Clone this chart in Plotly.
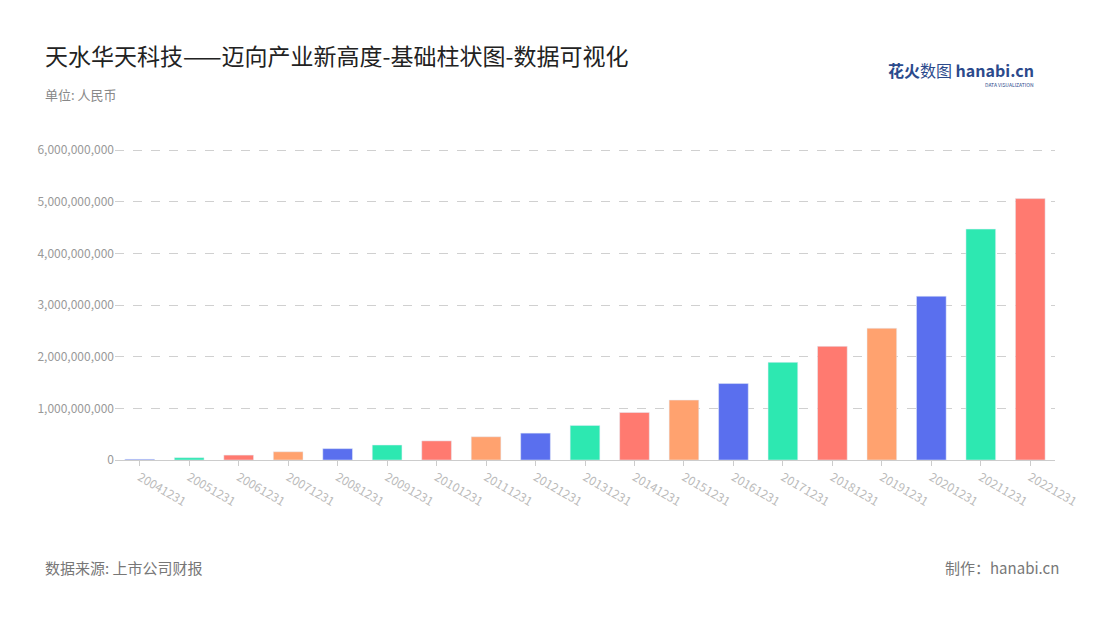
import plotly.graph_objects as go

years = ['20041231', '20051231', '20061231', '20071231', '20081231', '20091231',
         '20101231', '20111231', '20121231', '20131231', '20141231', '20151231',
         '20161231', '20171231', '20181231', '20191231', '20201231', '20211231',
         '20221231']
values = [15e6, 45e6, 95e6, 160e6, 220e6, 290e6, 370e6, 450e6, 520e6, 670e6,
          920e6, 1160e6, 1480e6, 1890e6, 2200e6, 2550e6, 3170e6, 4470e6, 5060e6]
palette = ['#5A6FEE', '#2DE8B1', '#FF7A70', '#FFA26F']
ticks = [0, 1e9, 2e9, 3e9, 4e9, 5e9, 6e9]
tick_text = ['0', '1,000,000,000', '2,000,000,000', '3,000,000,000',
             '4,000,000,000', '5,000,000,000', '6,000,000,000']

colors = [palette[i % 4] for i in range(len(years))]
font = 'Noto Sans CJK SC'

OFF = 8  # page body margin
L, R, T, B = 115 - OFF, 1055 - OFF, 148 - OFF, 460 - OFF


def px(x, y):
    return (x - OFF - L) / (R - L), (B - (y - OFF)) / (B - T)


fig = go.Figure(go.Bar(x=years, y=values, marker_color=colors, width=0.6))

fig.update_layout(
    width=1100, height=620,
    paper_bgcolor='white', plot_bgcolor='white',
    margin=dict(l=L, r=1100 - R, t=T, b=620 - B),
    font=dict(family=font, color='#999'),
    showlegend=False,
    xaxis=dict(tickangle=30, tickfont=dict(size=12, color='#bbb'), automargin=False,
               showline=True, linecolor='#ccc', ticks='outside', tickcolor='#ccc'),
    yaxis=dict(range=[0, 6.04e9], tickvals=ticks, ticktext=tick_text, automargin=False,
               tickfont=dict(size=12, color='#999'),
               gridcolor='#d0d0d0', griddash='dash', zeroline=False),
)

annots = [
    dict(text='天水华天科技——迈向产业新高度-基础柱状图-数据可视化', x=43, y=55, size=23, color='#222'),
    dict(text='单位: 人民币', x=43, y=95, size=13, color='#888'),
    dict(text='数据来源: 上市公司财报', x=43, y=567, size=15, color='#777'),
]
for a in annots:
    xx, yy = px(a['x'], a['y'])
    fig.add_annotation(text=a['text'], x=xx, y=yy,
                       xref='paper', yref='paper', xanchor='left', yanchor='middle',
                       showarrow=False, font=dict(size=a['size'], color=a['color']))
xx, yy = px(1061, 567)
fig.add_annotation(text='制作：hanabi.cn', x=xx, y=yy,
                   xref='paper', yref='paper', xanchor='right', yanchor='middle',
                   showarrow=False, font=dict(size=15, color='#777'))
xx, yy = px(1036, 70)
fig.add_annotation(text='<b>花火</b>数图 <b>hanabi.cn</b>', x=xx, y=yy,
                   xref='paper', yref='paper', xanchor='right', yanchor='middle',
                   showarrow=False, font=dict(size=16, color='#2B4A8C'))
xx, yy = px(1036, 84)
fig.add_annotation(text='DATA VISUALIZATION', x=xx, y=yy,
                   xref='paper', yref='paper', xanchor='right', yanchor='middle',
                   showarrow=False, font=dict(size=5, color='#2B4A8C'))

fig.write_html('out.html')
